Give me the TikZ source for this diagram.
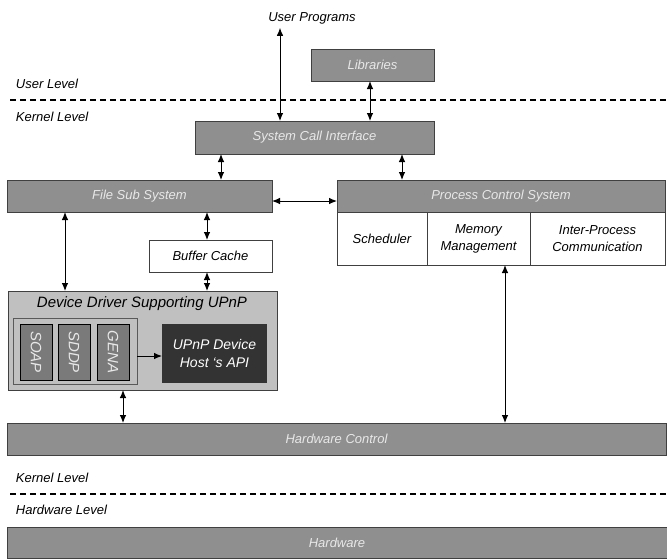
\documentclass[tikz,border=0pt]{standalone}
\usepackage{fontspec}
\setmainfont{Liberation Sans}
\usetikzlibrary{arrows.meta}
\definecolor{boxgray}{HTML}{8F8F8F}
\definecolor{lightgray2}{HTML}{C0C0C0}
\definecolor{midgray}{HTML}{7A7A7A}
\definecolor{darkbox}{HTML}{333333}
\definecolor{txtlight}{HTML}{E8E8E8}
\begin{document}
\begin{tikzpicture}[x=1pt,y=-1pt,
  every node/.style={font=\fontsize{13}{17}\selectfont\itshape, inner sep=0pt, outer sep=0pt},
  gbox/.style={draw=black!75, line width=0.8pt, fill=boxgray, text=txtlight, anchor=north west},
  wbox/.style={draw=black!75, line width=0.8pt, fill=white, text=black, anchor=north west, align=center},
  pbox/.style={draw=black, line width=0.8pt, fill=midgray, text=txtlight, anchor=north west},
  rtxt/.style={text=txtlight, rotate=-90, font=\fontsize{15}{17}\selectfont\itshape},
  lbl/.style={anchor=west, text=black},
  arr/.style={{Latex[length=8pt,width=6.5pt]}-{Latex[length=8pt,width=6.5pt]}, line width=0.9pt},
  sarr/.style={-{Latex[length=8pt,width=6.5pt]}, line width=0.9pt},
  lvl/.style={dash pattern=on 6pt off 4pt, line width=1.2pt}]
\useasboundingbox (0,0) rectangle (667,558);

% texts
\node[text=black] (up) at (312,18) {User Programs};
\node[lbl] (ul) at (16,84) {User Level};
\node[lbl] (kl1) at (16,117) {Kernel Level};
\node[lbl] (kl2) at (16,478) {Kernel Level};
\node[lbl] (hl) at (16,510) {Hardware Level};

% level lines
\coordinate (d1a) at (10,100); \coordinate (d1b) at (667,100);
\coordinate (d2a) at (10,494); \coordinate (d2b) at (667,494);
\draw[lvl] (d1a) -- (d1b);
\draw[lvl] (d2a) -- (d2b);

% boxes
\node[gbox, minimum width=123, minimum height=32] (lib) at (311,49) {Libraries};
\node[gbox, minimum width=239, minimum height=33] (sci) at (195,121) {System Call Interface};
\node[gbox, minimum width=265, minimum height=32] (fss) at (7,180) {File Sub System};
\node[gbox, minimum width=328, minimum height=32] (pcs) at (337,180) {Process Control System};
\node[wbox, minimum width=90, minimum height=53] (sch) at (337,212) {Scheduler};
\node[wbox, minimum width=103, minimum height=53] (mm) at (427,212) {Memory\\Management};
\node[wbox, minimum width=135, minimum height=53] (ipc) at (530,212) {Inter-Process\\Communication};
\node[wbox, minimum width=123, minimum height=32] (bc) at (149,240) {Buffer Cache};

% device driver
\node[draw=black!75, line width=0.8pt, fill=lightgray2, anchor=north west, minimum width=269, minimum height=99] (dd) at (8,291) {};
\node[text=black, font=\fontsize{15}{17}\selectfont\itshape] (ddt) at (142,304) {Device Driver Supporting UPnP};
\node[draw=black!65, line width=0.8pt, fill=lightgray2, anchor=north west, minimum width=124, minimum height=66] (grp) at (13,318) {};
\node[pbox, minimum width=32, minimum height=56] (soap) at (20,324) {};
\node[rtxt] at (soap.center) {SOAP};
\node[pbox, minimum width=32, minimum height=56] (sddp) at (58,324) {};
\node[rtxt] at (sddp.center) {SDDP};
\node[pbox, minimum width=32, minimum height=56] (gena) at (97,324) {};
\node[rtxt] at (gena.center) {GENA};
\node[fill=darkbox, text=white, anchor=north west, minimum width=105, minimum height=59, align=center, font=\fontsize{14}{18}\selectfont\itshape] (api) at (162,324) {UPnP Device\\Host `s API};

\node[gbox, minimum width=659, minimum height=32] (hwc) at (7,423) {Hardware Control};
\node[gbox, minimum width=660, minimum height=31] (hw) at (7,527) {Hardware};

% connectors
\draw[arr] ([yshift=-4]up.south -| 280,0) -- (sci.north -| 280,0);
\draw[arr] (lib.south -| 370,0) -- (sci.north -| 370,0);
\draw[arr] (sci.south -| 221,0) -- (fss.north -| 221,0);
\draw[arr] (sci.south -| 402,0) -- (pcs.north -| 402,0);
\draw[arr] (fss.east |- 0,201) -- (pcs.west |- 0,201);
\draw[arr] (fss.south -| 207,0) -- (bc.north -| 207,0);
\draw[arr] (bc.south -| 207,0) -- (dd.north -| 207,0);
\draw[arr] (fss.south -| 65,0) -- (dd.north -| 65,0);
\draw[sarr] (grp.east |- 0,356) -- (api.west |- 0,356);
\draw[arr] (dd.south -| 123,0) -- (hwc.north -| 123,0);
\draw[arr] (mm.south -| 505,0) -- (hwc.north -| 505,0);
\end{tikzpicture}
\end{document}
